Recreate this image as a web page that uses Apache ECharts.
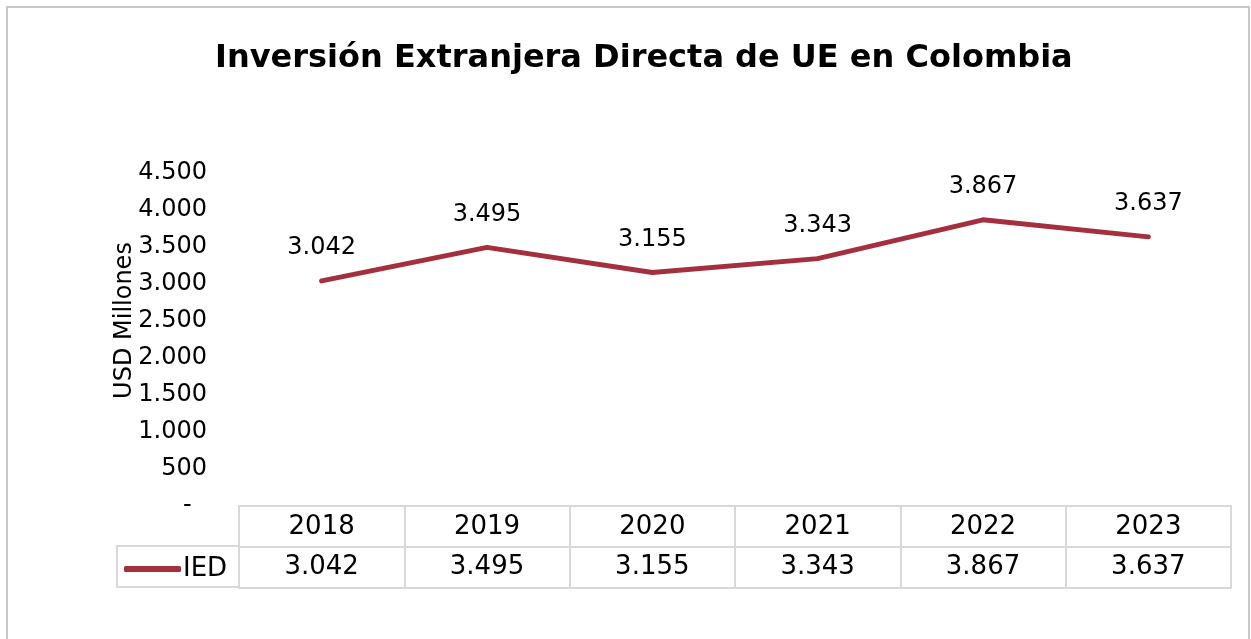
<!DOCTYPE html>
<html>
<head>
<meta charset="utf-8">
<script src="https://cdn.jsdelivr.net/npm/echarts@6/dist/echarts.min.js"></script>
<style>
  html, body { margin: 0; padding: 0; background: #fff; }
  #chart { width: 1251px; height: 639px; }
</style>
</head>
<body>
<div id="chart"></div>
<script>
// datos
const years = ['2018', '2019', '2020', '2021', '2022', '2023']
const ied = [3042, 3495, 3155, 3343, 3867, 3637]
const serieName = 'IED'

const lineColor = '#a4303f'
const cellColor = '#d9d9d9'
const font = 'DejaVu Sans, Verdana, sans-serif'

// 3042 -> "3.042"
function fmt(v) {
  return String(v).replace(/\B(?=(\d{3})+(?!\d))/g, '.')
}

const chart = echarts.init(document.getElementById('chart'))

chart.setOption({
  backgroundColor: '#fff',
  animation: false,
  title: {
    text: 'Inversión Extranjera Directa de UE en Colombia',
    left: 210,
    top: 38,
    textStyle: {
      fontFamily: font,
      fontWeight: 'bold',
      fontSize: 32,
      color: '#000'
    }
  },
  legend: {
    data: [serieName],
    left: 119,
    top: 551,
    icon: 'roundRect',
    itemWidth: 57,
    itemHeight: 6,
    textStyle: {
      fontFamily: font,
      fontSize: 26,
      color: '#000',
      padding: [0, 0, 0, -3]
    }
  },
  grid: {
    left: 239,
    right: 20,
    top: 173,
    bottom: 133
  },
  xAxis: [{
    type: 'category',
    data: years,
    position: 'bottom',
    axisLine: { show: true, lineStyle: { color: cellColor, width: 2 } },
    axisTick: { show: true, length: 82, lineStyle: { color: cellColor, width: 2 } },
    axisLabel: {
      margin: 21,
      verticalAlign: 'middle',
      fontFamily: font,
      fontSize: 26,
      color: '#000'
    }
  }, {
    type: 'category',
    data: years,
    position: 'bottom',
    offset: 41,
    axisLine: { show: true, lineStyle: { color: cellColor, width: 2 } },
    axisTick: { show: false },
    axisLabel: {
      margin: 20,
      verticalAlign: 'middle',
      fontFamily: font,
      fontSize: 26,
      color: '#000',
      formatter: (v, i) => fmt(ied[i])
    }
  }, {
    type: 'category',
    data: years,
    position: 'bottom',
    offset: 82,
    axisLine: { show: true, lineStyle: { color: cellColor, width: 2 } },
    axisTick: { show: false },
    axisLabel: { show: false }
  }],
  yAxis: {
    type: 'value',
    min: 0,
    max: 4500,
    interval: 500,
    name: 'USD Millones',
    nameLocation: 'middle',
    nameGap: 102,
    nameMoveOverlap: false,
    nameTextStyle: {
      fontFamily: font,
      fontSize: 24,
      color: '#000',
      padding: [0, 0, 0, 38]
    },
    axisLine: { show: false },
    axisTick: { show: false },
    splitLine: { show: false },
    axisLabel: {
      margin: 32,
      fontFamily: font,
      fontSize: 24,
      color: '#000',
      formatter: v => (v === 0 ? '-  ' : fmt(v))
    }
  },
  series: [{
    name: serieName,
    type: 'line',
    data: ied,
    showSymbol: true,
    symbol: 'circle',
    symbolSize: 4,
    lineStyle: { color: lineColor, width: 5, cap: 'round', join: 'round' },
    itemStyle: { color: lineColor },
    label: {
      show: true,
      position: 'top',
      distance: 19,
      fontFamily: font,
      fontSize: 24,
      color: '#000',
      formatter: p => fmt(p.value)
    }
  }],
  graphic: [{
    // marco exterior
    type: 'rect',
    shape: { x: 7, y: 7, width: 1242, height: 640 },
    style: { fill: 'none', stroke: '#c8c8c8', lineWidth: 2 },
    silent: true
  }, {
    // celda de la leyenda
    type: 'rect',
    shape: { x: 117, y: 546, width: 122, height: 41 },
    style: { fill: 'none', stroke: cellColor, lineWidth: 2 },
    silent: true
  }]
})
</script>
</body>
</html>
